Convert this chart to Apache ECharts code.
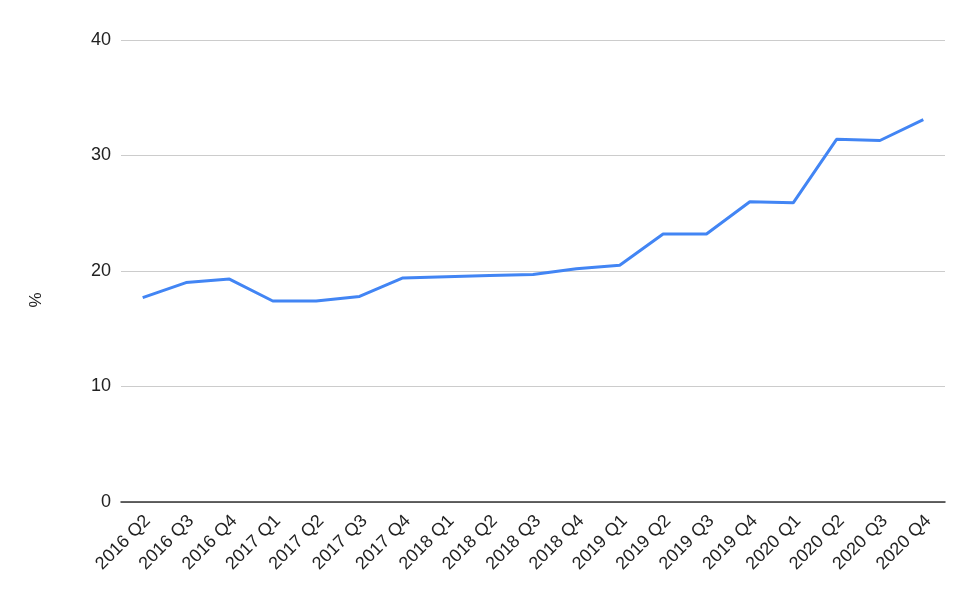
<!DOCTYPE html>
<html>
<head>
<meta charset="utf-8">
<script src="https://cdn.jsdelivr.net/npm/echarts@6/dist/echarts.min.js"></script>
<style>html,body{margin:0;padding:0;background:#fff}#c{width:974px;height:600px}</style>
</head>
<body>
<div id="c"></div>
<script>
const categories = ['2016 Q2','2016 Q3','2016 Q4','2017 Q1','2017 Q2','2017 Q3','2017 Q4','2018 Q1','2018 Q2','2018 Q3','2018 Q4','2019 Q1','2019 Q2','2019 Q3','2019 Q4','2020 Q1','2020 Q2','2020 Q3','2020 Q4'];
const values = [17.7,19.0,19.3,17.4,17.4,17.8,19.4,19.5,19.6,19.7,20.2,20.5,23.2,23.2,26.0,25.9,31.4,31.3,33.1];
const yTicks = {min:0, max:40, interval:10};
const yName = '%';

const FONT = 'Arial, Liberation Sans, sans-serif';
const chart = echarts.init(document.getElementById('c'), null, {renderer:'canvas'});
chart.setOption({
  animation:false,
  grid:{left:121, right:29, top:40, bottom:98},
  xAxis:{
    type:'category', data:categories, boundaryGap:true,
    axisLine:{lineStyle:{color:'#333', width:1.5}},
    axisTick:{show:false},
    axisLabel:{rotate:45, color:'#222', fontSize:18, fontFamily:FONT, interval:0, margin:21, padding:[0,-7,0,0]}
  },
  yAxis:{
    type:'value', min:yTicks.min, max:yTicks.max, interval:yTicks.interval,
    name:yName, nameLocation:'middle', nameGap:76, nameRotate:90,
    nameTextStyle:{color:'#222', fontSize:17, fontFamily:FONT, padding:[0,58,0,0]},
    axisLine:{show:false}, axisTick:{show:false},
    axisLabel:{color:'#222', fontSize:18, fontFamily:FONT, margin:10},
    splitLine:{lineStyle:{color:'#cccccc', width:1}}
  },
  series:[{type:'line', data:values, symbol:'none', lineStyle:{color:'#4285F4', width:3}, itemStyle:{color:'#4285F4'}}]
});
</script>
</body>
</html>
